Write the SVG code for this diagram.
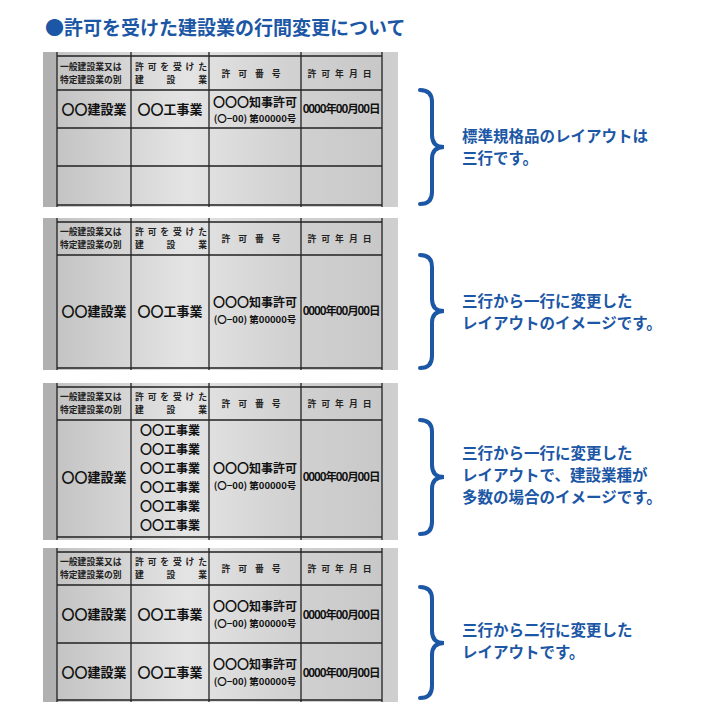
<svg xmlns="http://www.w3.org/2000/svg" width="720" height="720" viewBox="0 0 720 720">
<defs>
<linearGradient id="plate" x1="0" y1="0" x2="1" y2="0">
<stop offset="0" stop-color="#c4c4c4"/><stop offset="0.4" stop-color="#e4e4e4"/><stop offset="0.7" stop-color="#d2d2d2"/><stop offset="1" stop-color="#c8c8c8"/>
</linearGradient>
<linearGradient id="side" x1="0" y1="0" x2="1" y2="0">
<stop offset="0" stop-color="#b0b0b0"/><stop offset="1" stop-color="#cfcfcf"/>
</linearGradient>
</defs>
<style>
text{font-family:"Noto Sans CJK JP","Liberation Sans",sans-serif;font-weight:bold}
.h{font-size:8.8px;fill:#222}
.b{font-size:13px;fill:#111}
.k{font-size:12px;fill:#111}
.s{font-size:9.5px;fill:#111}
.d{font-size:11.5px;fill:#111;letter-spacing:-1.1px}
.ln{stroke:#222;stroke-width:1.3;fill:none}
.br{stroke:#1c57a6;stroke-width:4;fill:none;stroke-linecap:round}
.t{font-size:15.5px;fill:#1c57a6}
</style>
<rect width="720" height="720" fill="#fff"/>
<text x="45" y="35" style="font-size:19px;fill:#1c57a6">●許可を受けた建設業の行間変更について</text>

<g id="panel1">
<rect x="43" y="52" width="355" height="155" fill="url(#side)"/>
<rect x="57" y="52" width="325" height="155" fill="url(#plate)"/>
<path class="ln" d="M57 52V207M131 52V207M209 52V207M301 52V207M382 52V207M57 56H382M57 90H382M57 128H382M57 166H382M57 205H382"/>
<text class="h" x="60" y="70">一般建設業又は</text><text class="h" x="60" y="83">特定建設業の別</text>
<text class="h" x="135" y="70" textLength="72">許可を受けた</text><text class="h" x="135" y="83" textLength="72">建　設　業</text>
<text class="h" x="255" y="77" text-anchor="middle" letter-spacing="8">許可番号</text>
<text class="h" x="342" y="77" text-anchor="middle" letter-spacing="5">許可年月日</text>
<text class="b" x="94" y="114" text-anchor="middle">〇〇建設業</text>
<text class="b" x="170" y="114" text-anchor="middle">〇〇工事業</text>
<text class="k" x="255" y="107" text-anchor="middle">〇〇〇知事許可</text>
<text class="s" x="255" y="122" text-anchor="middle">(〇−00) 第00000号</text>
<text class="d" x="341" y="113" text-anchor="middle">0000年00月00日</text>
</g>

<g id="panel2">
<rect x="43" y="218" width="355" height="152" fill="url(#side)"/>
<rect x="57" y="218" width="325" height="152" fill="url(#plate)"/>
<path class="ln" d="M57 218V370M131 218V370M209 218V370M301 218V370M382 218V370M57 222H382M57 255H382M57 368H382"/>
<text class="h" x="60" y="235">一般建設業又は</text><text class="h" x="60" y="248">特定建設業の別</text>
<text class="h" x="135" y="235" textLength="72">許可を受けた</text><text class="h" x="135" y="248" textLength="72">建　設　業</text>
<text class="h" x="255" y="242" text-anchor="middle" letter-spacing="8">許可番号</text>
<text class="h" x="342" y="242" text-anchor="middle" letter-spacing="5">許可年月日</text>
<text class="b" x="94" y="316" text-anchor="middle">〇〇建設業</text>
<text class="b" x="170" y="316" text-anchor="middle">〇〇工事業</text>
<text class="k" x="255" y="307" text-anchor="middle">〇〇〇知事許可</text>
<text class="s" x="255" y="323" text-anchor="middle">(〇−00) 第00000号</text>
<text class="d" x="341" y="315" text-anchor="middle">0000年00月00日</text>
</g>

<g id="panel3">
<rect x="43" y="383" width="355" height="157" fill="url(#side)"/>
<rect x="57" y="383" width="325" height="157" fill="url(#plate)"/>
<path class="ln" d="M57 383V540M131 383V540M209 383V540M301 383V540M382 383V540M57 387H382M57 420H382M57 537H382"/>
<text class="h" x="60" y="400">一般建設業又は</text><text class="h" x="60" y="413">特定建設業の別</text>
<text class="h" x="135" y="400" textLength="72">許可を受けた</text><text class="h" x="135" y="413" textLength="72">建　設　業</text>
<text class="h" x="255" y="407" text-anchor="middle" letter-spacing="8">許可番号</text>
<text class="h" x="342" y="407" text-anchor="middle" letter-spacing="5">許可年月日</text>
<text class="b" x="94" y="482" text-anchor="middle">〇〇建設業</text>
<text class="k" x="170" y="435" text-anchor="middle">〇〇工事業</text>
<text class="k" x="170" y="454" text-anchor="middle">〇〇工事業</text>
<text class="k" x="170" y="473" text-anchor="middle">〇〇工事業</text>
<text class="k" x="170" y="492" text-anchor="middle">〇〇工事業</text>
<text class="k" x="170" y="511" text-anchor="middle">〇〇工事業</text>
<text class="k" x="170" y="530" text-anchor="middle">〇〇工事業</text>
<text class="k" x="255" y="473" text-anchor="middle">〇〇〇知事許可</text>
<text class="s" x="255" y="489" text-anchor="middle">(〇−00) 第00000号</text>
<text class="d" x="341" y="481" text-anchor="middle">0000年00月00日</text>
</g>

<g id="panel4">
<rect x="43" y="548" width="355" height="154" fill="url(#side)"/>
<rect x="57" y="548" width="325" height="154" fill="url(#plate)"/>
<path class="ln" d="M57 548V702M131 548V702M209 548V702M301 548V702M382 548V702M57 552H382M57 585H382M57 643H382M57 700H382"/>
<text class="h" x="60" y="565">一般建設業又は</text><text class="h" x="60" y="578">特定建設業の別</text>
<text class="h" x="135" y="565" textLength="72">許可を受けた</text><text class="h" x="135" y="578" textLength="72">建　設　業</text>
<text class="h" x="255" y="572" text-anchor="middle" letter-spacing="8">許可番号</text>
<text class="h" x="342" y="572" text-anchor="middle" letter-spacing="5">許可年月日</text>
<text class="b" x="94" y="619" text-anchor="middle">〇〇建設業</text>
<text class="b" x="170" y="619" text-anchor="middle">〇〇工事業</text>
<text class="k" x="255" y="611" text-anchor="middle">〇〇〇知事許可</text>
<text class="s" x="255" y="627" text-anchor="middle">(〇−00) 第00000号</text>
<text class="d" x="341" y="619" text-anchor="middle">0000年00月00日</text>
<text class="b" x="94" y="677" text-anchor="middle">〇〇建設業</text>
<text class="b" x="170" y="677" text-anchor="middle">〇〇工事業</text>
<text class="k" x="255" y="669" text-anchor="middle">〇〇〇知事許可</text>
<text class="s" x="255" y="685" text-anchor="middle">(〇−00) 第00000号</text>
<text class="d" x="341" y="677" text-anchor="middle">0000年00月00日</text>
</g>

<g id="connectors">
<path class="br" d="M420 90Q432 90 432 102V135Q432 147 444 147Q432 147 432 159V192Q432 204 420 204"/>
<path class="br" d="M420 255Q432 255 432 267V299Q432 311 444 311Q432 311 432 323V356Q432 368 420 368"/>
<path class="br" d="M420 420Q432 420 432 432V465Q432 477 444 477Q432 477 432 489V522Q432 534 420 534"/>
<path class="br" d="M420 587Q432 587 432 599V631Q432 643 444 643Q432 643 432 655V686Q432 698 420 698"/>
</g>

<g id="labels">
<text class="t" x="462" y="142">標準規格品のレイアウトは</text>
<text class="t" x="462" y="164">三行です。</text>
<text class="t" x="462" y="307">三行から一行に変更した</text>
<text class="t" x="462" y="329">レイアウトのイメージです。</text>
<text class="t" x="462" y="459">三行から一行に変更した</text>
<text class="t" x="462" y="481">レイアウトで、建設業種が</text>
<text class="t" x="462" y="503">多数の場合のイメージです。</text>
<text class="t" x="462" y="636">三行から二行に変更した</text>
<text class="t" x="462" y="658">レイアウトです。</text>
</g>
</svg>
